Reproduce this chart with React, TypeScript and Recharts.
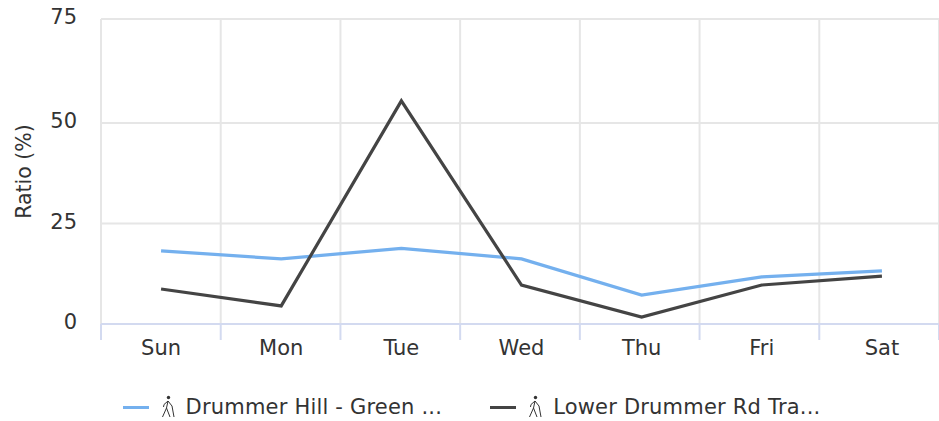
import React from 'react';
import { LineChart, Line, XAxis, YAxis, CartesianGrid, Legend, Label } from 'recharts';

const days = ['Sun', 'Mon', 'Tue', 'Wed', 'Thu', 'Fri', 'Sat'];
const drummerHill = [18.2, 16.2, 18.8, 16.2, 7.2, 11.7, 13.2];
const lowerDrummer = [8.7, 4.5, 55.5, 9.7, 1.7, 9.7, 11.9];
const yTicks = [0, 25, 50, 75.87];
const dayEdges = [0, 1, 2, 3, 4, 5, 6, 7];

const seriesNames = ['Drummer Hill - Green ...', 'Lower Drummer Rd Tra...'];
const seriesColors = ['#74b0ee', '#444444'];

const data = days.map((day, i) => ({
    day,
    edge: i,
    drummerHill: drummerHill[i],
    lowerDrummer: lowerDrummer[i],
}));

const FONT = '"DejaVu Sans", sans-serif';
const TEXT = '#333333';

const HikerIcon = () => (
    <svg width={14} height={26} viewBox="0 0 14 26" fill="none" stroke="#333333" strokeWidth={1}>
        <circle cx={7.5} cy={3.5} r={1.7} fill="#333333" stroke="none" />
        <path d="M7 7 L5.5 14 L1.5 23 M5.5 14 L9 23 M7 7 L11 12 L13 23 M7 7 L3 10.5 L2.5 13" />
    </svg>
);

const LegendContent = () => (
    <div style={{ display: 'flex', justifyContent: 'center', gap: 48, fontFamily: FONT, fontSize: 21, letterSpacing: 0.2, color: TEXT }}>
        {seriesNames.map((name, i) => (
            <div key={name} style={{ display: 'flex', alignItems: 'center', whiteSpace: 'nowrap' }}>
                <span style={{ width: 26, height: 3, background: seriesColors[i], marginRight: 12 }} />
                <HikerIcon />
                <span style={{ marginLeft: 11 }}>{name}</span>
            </div>
        ))}
    </div>
);

export default function App() {
    return (
        <div style={{ position: 'absolute', left: 0, top: 0 }}>
            <LineChart
                width={939}
                height={421}
                data={data}
                margin={{ top: 19, right: 0, bottom: 27, left: 0 }}
            >
                <CartesianGrid xAxisId="edges" stroke="#e6e6e6" strokeWidth={2} />
                <XAxis
                    xAxisId="edges"
                    dataKey="edge"
                    type="number"
                    domain={[0, 7]}
                    allowDataOverflow
                    ticks={dayEdges}
                    interval={0}
                    height={1}
                    tickFormatter={() => ''}
                    tickSize={16}
                    stroke="#d3daf0"
                    strokeWidth={2}
                />
                <XAxis
                    xAxisId="labels"
                    dataKey="day"
                    scale="band"
                    padding={{ left: 0, right: -3 }}
                    height={39}
                    axisLine={false}
                    tickLine={false}
                    tickSize={0}
                    tickMargin={15}
                    tick={{ fill: TEXT, fontSize: 21, fontFamily: FONT }}
                />
                <YAxis
                    domain={[0, 75.87]}
                    ticks={yTicks}
                    interval={0}
                    width={101}
                    axisLine={false}
                    tickLine={false}
                    tickSize={0}
                    tickMargin={24}
                    tickFormatter={(v: number) => String(Math.floor(v))}
                    tick={{ fill: TEXT, fontSize: 21, fontFamily: FONT, dy: -2 }}
                >
                    <Label
                        value="Ratio (%)"
                        angle={-90}
                        position="insideLeft"
                        offset={24}
                        style={{ textAnchor: 'middle', fill: TEXT, fontSize: 20.5, fontFamily: FONT }}
                    />
                </YAxis>
                <Line
                    xAxisId="labels"
                    type="linear"
                    dataKey="drummerHill"
                    name={seriesNames[0]}
                    stroke={seriesColors[0]}
                    strokeWidth={3.2}
                    dot={false}
                    isAnimationActive={false}
                />
                <Line
                    xAxisId="labels"
                    type="linear"
                    dataKey="lowerDrummer"
                    name={seriesNames[1]}
                    stroke={seriesColors[1]}
                    strokeWidth={3.2}
                    dot={false}
                    isAnimationActive={false}
                />
                <Legend
                    content={<LegendContent />}
                    wrapperStyle={{ left: 2, width: 939, top: 394, height: 30 }}
                />
            </LineChart>
        </div>
    );
}
